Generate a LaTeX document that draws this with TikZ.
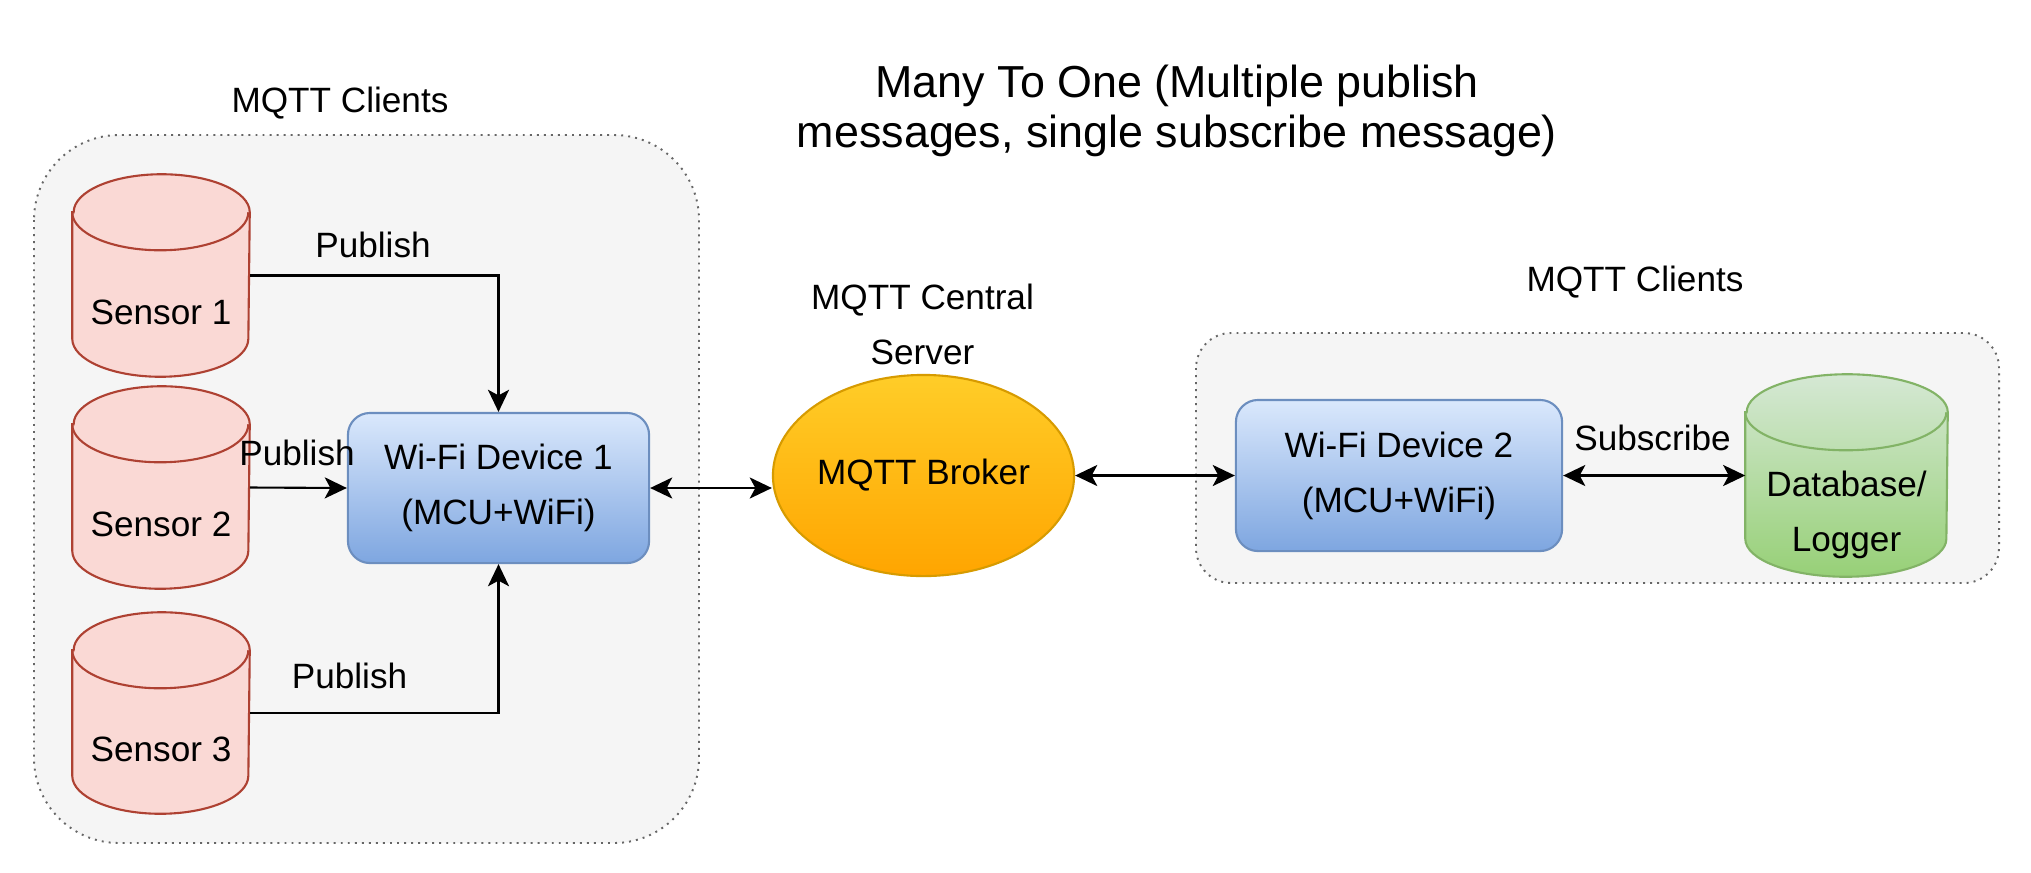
\documentclass[tikz,border=0pt]{standalone}
\usepackage{fontspec}
\setmainfont{Liberation Sans}
\usetikzlibrary{arrows.meta,calc,shapes.geometric}

\definecolor{sensfill}{HTML}{FAD9D5}
\definecolor{sensline}{HTML}{AE4132}
\definecolor{blutop}{HTML}{DAE8FC}
\definecolor{blubot}{HTML}{7EA6E0}
\definecolor{bluline}{HTML}{6C8EBF}
\definecolor{ortop}{HTML}{FFCD28}
\definecolor{orbot}{HTML}{FFA500}
\definecolor{orline}{HTML}{D79B00}
\definecolor{grtop}{HTML}{D5E8D4}
\definecolor{grbot}{HTML}{97D077}
\definecolor{grline}{HTML}{82B366}
\definecolor{boxfill}{HTML}{F5F5F5}
\definecolor{boxline}{HTML}{666666}

% #1 node, #2 fill style, #3 line colour, #4 x radius, #5 y radius
\newcommand\mycylinder[5]{%
  \path[#2, draw=#3, line width=0.6pt]
    ($(#1.north west)+(0,-#5)$) -- ($(#1.south west)+(0,#5)$)
    arc[start angle=180,end angle=360,x radius=#4,y radius=#5]
    -- ($(#1.north east)+(0,-#5)$)
    arc[start angle=0,end angle=180,x radius=#4,y radius=#5] -- cycle;
  \draw[draw=#3, line width=0.6pt]
    ($(#1.north west)+(0,-#5)$)
    arc[start angle=180,end angle=360,x radius=#4,y radius=#5];
}

\begin{document}
\begin{tikzpicture}[x=0.01cm,y=0.01cm,
  txt/.style={font=\fontsize{10}{15.65}\selectfont, inner sep=0pt, align=center},
  lbl/.style={txt, anchor=base},
  titlestyle/.style={font=\fontsize{12.75}{14.5}\selectfont, inner sep=0pt, align=center},
  group/.style={draw=boxline, fill=boxfill, line width=0.55pt, dash pattern=on 0.55pt off 1.45pt},
  cylbox/.style={inner sep=0pt, minimum width=17.6mm, minimum height=20.1mm},
  sensorfill/.style={fill=sensfill},
  dbfill/.style={top color=grtop, bottom color=grbot},
  device/.style={txt, draw=bluline, top color=blutop, bottom color=blubot, line width=0.6pt, rounded corners=2.2mm},
  broker/.style={txt, ellipse, draw=orline, top color=ortop, bottom color=orbot, line width=0.6pt, minimum width=30.1mm, minimum height=20.1mm},
  arr/.style={-{Stealth[length=6.3pt,width=6pt,inset=1.6pt]}, line width=0.6pt},
  biarr/.style={{Stealth[length=6.3pt,width=6pt,inset=1.6pt]}-{Stealth[length=6.3pt,width=6pt,inset=1.6pt]}, line width=0.6pt}
]
\fill[white] (0,0) rectangle (2031,-872);
\useasboundingbox (0,0) rectangle (2031,-872);

% groups
\path[group, rounded corners=8.5mm] (34,-135) rectangle (699,-843);
\path[group, rounded corners=3.5mm] (1196,-333) rectangle (1999,-583);

% sensors
\node[cylbox] (s1) at (161,-275.5) {};
\node[cylbox] (s2) at (161,-487.5) {};
\node[cylbox, minimum height=20mm] (s3) at (161,-713) {};
\mycylinder{s1}{sensorfill}{sensline}{8.8mm}{3.8mm}
\mycylinder{s2}{sensorfill}{sensline}{8.8mm}{3.8mm}
\mycylinder{s3}{sensorfill}{sensline}{8.8mm}{3.8mm}
\node[lbl] (s1t) at (161,-324.5) {Sensor 1};
\node[lbl] (s2t) at (161,-536.5) {Sensor 2};
\node[lbl] (s3t) at (161,-761.5) {Sensor 3};

% database
\node[cylbox, minimum width=20.1mm] (db) at (1846.5,-475.5) {};
\mycylinder{db}{dbfill}{grline}{10.05mm}{3.8mm}
\node[txt] (dbt) at (1846.5,-514.6) {Database/\\Logger};

% devices and broker
\node[device, minimum width=30.1mm, minimum height=15mm] (d1) at (498.5,-488) {Wi-Fi Device 1\\(MCU+WiFi)};
\node[device, minimum width=32.6mm, minimum height=15.1mm] (d2) at (1399,-475.5) {Wi-Fi Device 2\\(MCU+WiFi)};
\node[broker] (br) at (923.5,-475.5) {MQTT Broker};

% connectors
\draw[arr] (s1.east) -| (d1.north);
\draw[arr] (s2.east) -- (d1.west);
\draw[arr] (s3.east) -| (d1.south);
\draw[biarr] (d1.east) -- (d1.east -| br.west);
\draw[biarr] (br.east) -- (d2.west);
\draw[biarr] (d2.east) -- (db.west);

% labels
\node[lbl] (p1) at (373,-257.5) {Publish};
\node[lbl] (p2) at (297,-465) {Publish};
\node[lbl] (p3) at (349.5,-688) {Publish};
\node[lbl] (sub) at (1652.5,-450) {Subscribe};
\node[lbl] (cl1) at (340,-112) {MQTT Clients};
\node[lbl] (cl2) at (1635,-291) {MQTT Clients};
\node[txt] (srv) at (922.5,-324.4) {MQTT Central\\Server};
\node[titlestyle] (ttl) at (1177,-110.9) {Many To One (Multiple publish\\messages, single subscribe message)};
\end{tikzpicture}
\end{document}
